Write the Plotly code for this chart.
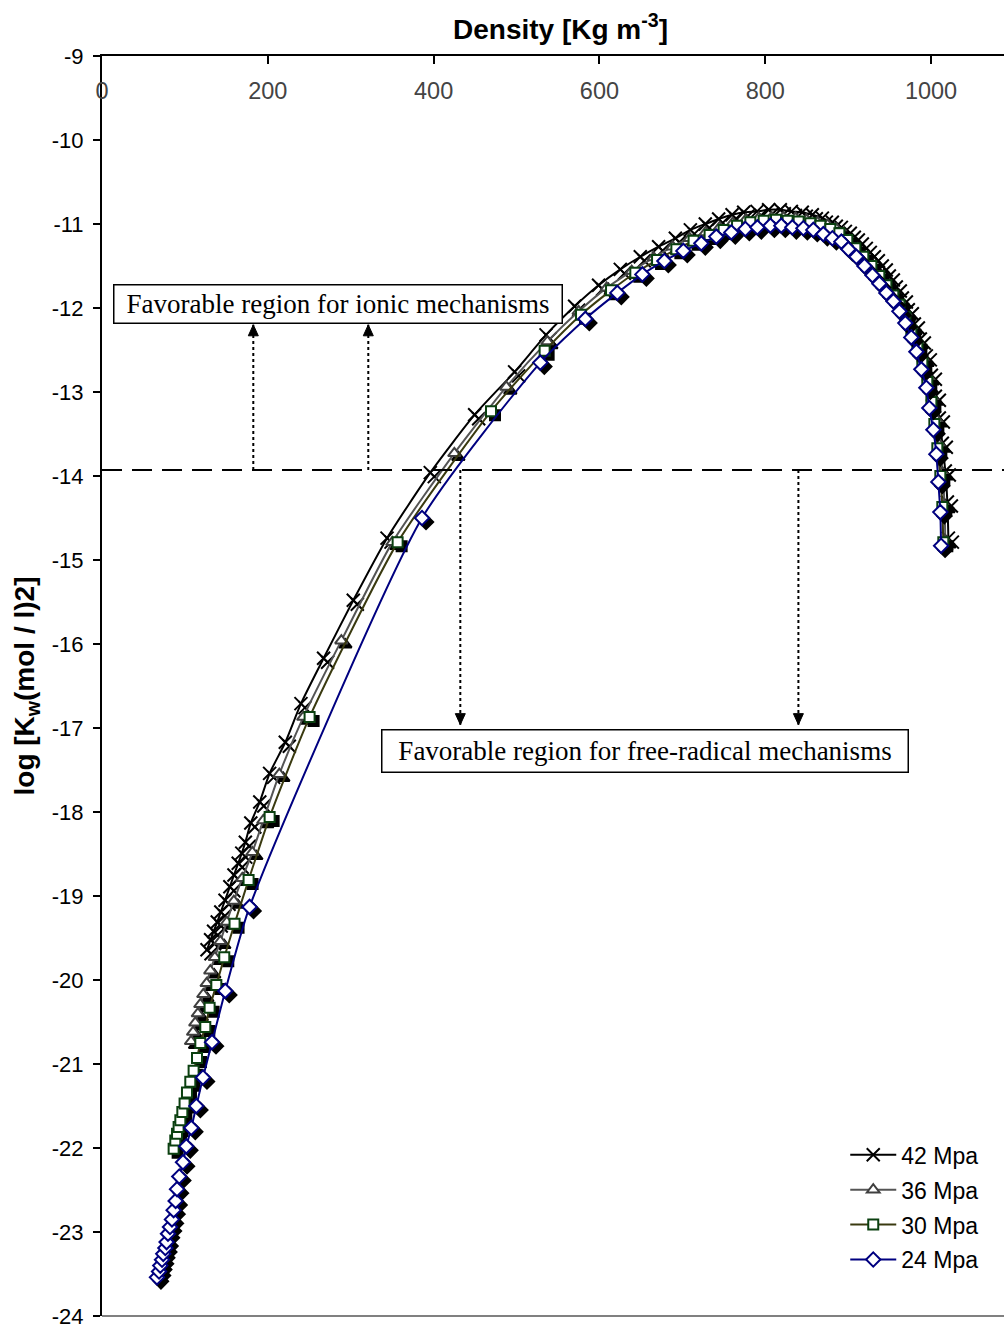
import plotly.graph_objects as go

# Ion product of water along four isobars: density [kg/m3] vs log Kw
rho_42 = [126.7, 131.0, 134.6, 139.0, 143.3, 148.4, 154.2, 159.2, 164.3, 168.6,
          172.9, 179.5, 190.3, 202.2, 221.1, 240.0, 267.3, 303.1, 343.8, 396.0,
          449.5, 497.7, 535.6, 570.1, 599.0, 625.2, 649.3, 671.4, 691.6, 709.7,
          727.7, 743.8, 760.0, 774.0, 790.1, 804.1, 818.2, 831.5, 844.7, 856.8,
          868.9, 880.9, 891.8, 902.6, 912.3, 921.9, 931.6, 941.2, 949.7, 958.1,
          965.4, 972.6, 979.9, 987.1, 994.3, 1000.4, 1005.2, 1010.0, 1013.6, 1017.2,
          1019.7, 1020.9]
logkw_42 = [-19.64, -19.52, -19.42, -19.31, -19.19, -19.05, -18.89, -18.75, -18.61, -18.49,
            -18.36, -18.13, -17.88, -17.54, -17.17, -16.71, -16.17, -15.48, -14.74, -13.96,
            -13.27, -12.76, -12.32, -11.98, -11.73, -11.54, -11.39, -11.27, -11.17, -11.07,
            -11.00, -10.94, -10.89, -10.86, -10.85, -10.83, -10.83, -10.85, -10.86, -10.89,
            -10.93, -10.98, -11.04, -11.11, -11.19, -11.29, -11.39, -11.50, -11.62, -11.75,
            -11.88, -12.02, -12.19, -12.37, -12.57, -12.80, -13.05, -13.31, -13.61, -13.94,
            -14.31, -14.74]

rho_36 = [107.4, 109.9, 112.5, 115.6, 118.6, 122.2, 126.2, 130.6, 136.1, 142.7,
          150.5, 159.0, 169.2, 181.3, 194.6, 213.9, 242.8, 288.7, 350.2, 425.0,
          487.7, 537.2, 574.9, 608.7, 638.9, 665.4, 688.3, 708.8, 728.1, 745.0,
          760.6, 776.3, 792.0, 807.6, 822.1, 836.6, 849.9, 863.1, 875.2, 886.1,
          896.9, 906.6, 916.2, 925.9, 935.6, 945.2, 953.7, 962.1, 969.4, 976.6,
          983.8, 991.0, 997.0, 1001.8, 1006.6, 1010.3, 1013.9, 1016.3, 1017.2]
logkw_36 = [-20.73, -20.62, -20.51, -20.40, -20.29, -20.17, -20.04, -19.89, -19.73, -19.54,
            -19.31, -19.06, -18.79, -18.48, -18.10, -17.55, -16.87, -15.96, -14.79, -13.73,
            -12.94, -12.40, -12.04, -11.76, -11.56, -11.40, -11.27, -11.17, -11.10, -11.04,
            -10.99, -10.95, -10.93, -10.92, -10.92, -10.93, -10.95, -10.98, -11.01, -11.06,
            -11.14, -11.24, -11.35, -11.45, -11.57, -11.68, -11.80, -11.92, -12.06, -12.23,
            -12.40, -12.61, -12.83, -13.07, -13.33, -13.63, -13.96, -14.35, -14.77]

rho_30 = [86.4, 88.4, 90.5, 92.4, 94.5, 96.9, 99.6, 102.5, 106.5, 110.5,
          114.6, 118.6, 124.6, 129.8, 137.9, 147.5, 159.9, 176.8, 202.2, 250.4,
          356.6, 469.2, 533.9, 577.8, 614.0, 643.3, 669.5, 692.8, 713.6, 732.9,
          749.8, 766.0, 782.0, 798.1, 813.0, 827.0, 840.3, 854.4, 866.5, 878.5,
          889.4, 899.0, 908.7, 918.3, 928.0, 937.6, 946.1, 954.5, 961.8, 969.0,
          976.2, 983.5, 989.5, 995.5, 1000.4, 1004.0, 1007.6, 1011.2, 1013.6, 1014.8]
logkw_30 = [-22.01, -21.91, -21.83, -21.75, -21.67, -21.57, -21.47, -21.34, -21.21, -21.08,
            -20.93, -20.75, -20.56, -20.33, -20.06, -19.73, -19.33, -18.81, -18.06, -16.87,
            -14.79, -13.23, -12.51, -12.08, -11.79, -11.58, -11.43, -11.30, -11.20, -11.13,
            -11.07, -11.02, -10.98, -10.96, -10.95, -10.96, -10.97, -10.99, -11.02, -11.06,
            -11.11, -11.19, -11.29, -11.39, -11.50, -11.62, -11.73, -11.85, -11.96, -12.11,
            -12.27, -12.45, -12.65, -12.88, -13.12, -13.38, -13.67, -14.00, -14.37, -14.79]

rho_24 = [66.3, 68.8, 70.3, 72.4, 73.9, 76.4, 77.9, 79.6, 82.0, 84.4,
          86.4, 88.8, 90.5, 93.2, 97.7, 101.7, 107.7, 113.8, 121.8, 132.7,
          148.7, 178.0, 386.0, 528.7, 583.0, 621.6, 651.8, 678.3, 701.2, 722.9,
          741.0, 759.1, 776.0, 790.5, 806.2, 819.4, 832.7, 846.0, 858.0, 870.1,
          881.0, 891.8, 900.3, 910.0, 919.6, 929.3, 937.7, 946.1, 954.6, 961.8,
          969.0, 976.2, 982.3, 988.3, 994.3, 997.9, 1002.8, 1006.4, 1008.8, 1011.2,
          1012.1]
logkw_24 = [-23.54, -23.47, -23.40, -23.33, -23.26, -23.19, -23.12, -23.02, -22.94, -22.85,
            -22.74, -22.63, -22.49, -22.34, -22.17, -21.98, -21.76, -21.50, -21.16, -20.74,
            -20.13, -19.13, -14.50, -12.65, -12.13, -11.82, -11.60, -11.44, -11.32, -11.23,
            -11.15, -11.10, -11.06, -11.04, -11.02, -11.02, -11.04, -11.05, -11.07, -11.12,
            -11.17, -11.21, -11.30, -11.39, -11.50, -11.61, -11.71, -11.82, -11.92, -12.04,
            -12.18, -12.35, -12.52, -12.73, -12.95, -13.19, -13.45, -13.74, -14.07, -14.43,
            -14.83]

series_names = ["42 Mpa", "36 Mpa", "30 Mpa", "24 Mpa"]
x_ticks = [0, 200, 400, 600, 800, 1000]
y_ticks = [-9, -10, -11, -12, -13, -14, -15, -16, -17, -18, -19, -20, -21, -22, -23, -24]
y_tick_text = ["-9", "-10", "-11", "-12", "-13", "-14", "-15", "-16", "-17", "-18",
               "-19", "-20", "-21", "-22", "-23", "-24"]

# boundary between the two reaction regimes (log Kw)
kw_boundary = -13.93

# ---------------------------------------------------------------- layout geometry
W, H = 1004, 1329
M_L, M_R, M_T, M_B = 102, 0, 56, 13
X_RANGE = [0, 1088]
Y_RANGE = [-24, -9]
plot_w = W - M_L - M_R
plot_h = H - M_T - M_B

# drop shadow under each marker, shifted a few pixels down-right
SHADOW_PX = 4
sdx = SHADOW_PX * (X_RANGE[1] - X_RANGE[0]) / plot_w
sdy = -SHADOW_PX * (Y_RANGE[1] - Y_RANGE[0]) / plot_h

FONT = "Arial, Liberation Sans, sans-serif"
SERIF = "Times New Roman, Liberation Serif, serif"

styles = [
    dict(line="#000000", marker=dict(symbol="x-thin", size=13, color="#000000",
                                     line=dict(color="#000000", width=2))),
    dict(line="#555555", marker=dict(symbol="triangle-up", size=11, color="white",
                                     line=dict(color="#404040", width=2))),
    dict(line="#3a3a10", marker=dict(symbol="square", size=10, color="white",
                                     line=dict(color="#0b4010", width=2))),
    dict(line="#000080", marker=dict(symbol="diamond", size=11, color="white",
                                     line=dict(color="#000080", width=2))),
]

data = [(rho_42, logkw_42), (rho_36, logkw_36), (rho_30, logkw_30), (rho_24, logkw_24)]

fig = go.Figure()
for name, (xs, ys), st in zip(series_names, data, styles):
    m = st["marker"]
    shadow_marker = dict(symbol=m["symbol"], size=m["size"], color="#000000",
                         line=dict(color="#000000", width=m["line"]["width"]))
    fig.add_trace(go.Scatter(
        x=[v + sdx for v in xs], y=[v + sdy for v in ys], mode="markers",
        marker=shadow_marker, showlegend=False, hoverinfo="skip"))
    fig.add_trace(go.Scatter(
        x=xs, y=ys, name=name, mode="lines+markers", legendgroup=name,
        line=dict(color=st["line"], width=2, shape="spline", smoothing=0.6),
        marker=m))

# regime boundary and dotted arrows pointing to each region
shapes = [
    dict(type="line", xref="paper", x0=0, x1=1, yref="y", y0=kw_boundary, y1=kw_boundary,
         line=dict(color="#000000", width=2, dash="20px,10px")),
    dict(type="line", xref="paper", x0=0, x1=1, yref="paper", y0=0, y1=0,
         line=dict(color="#808080", width=2)),
]
up_arrows = [(182.5, -12.20), (321.2, -12.20)]
down_arrows = [(432.2, -16.96), (840.0, -16.96)]
for x, ytip in up_arrows + down_arrows:
    shapes.append(dict(type="line", xref="x", yref="y", x0=x, x1=x, y0=kw_boundary, y1=ytip,
                       line=dict(color="#000000", width=2, dash="dot")))
    # arrowhead: small filled triangle, sized in pixels around the tip
    back = -11 if ytip > kw_boundary else 11
    shapes.append(dict(type="path", xref="x", yref="y",
                       xsizemode="pixel", ysizemode="pixel", xanchor=x, yanchor=ytip,
                       path=f"M0,0 L-5,{back} L5,{back} Z",
                       fillcolor="#000000", line=dict(color="#000000", width=1)))

annotations = [
    dict(x=284.4, y=-11.95, xref="x", yref="y", showarrow=False,
         text="Favorable region for ionic mechanisms",
         font=dict(family=SERIF, size=27, color="#000000"),
         bgcolor="white", bordercolor="#000000", borderwidth=1.5, borderpad=0,
         width=447, height=37, align="center", valign="middle"),
    dict(x=654.8, y=-17.27, xref="x", yref="y", showarrow=False,
         text="Favorable region for free-radical mechanisms",
         font=dict(family=SERIF, size=27, color="#000000"),
         bgcolor="white", bordercolor="#000000", borderwidth=1.5, borderpad=0,
         width=525, height=41, align="center", valign="middle"),
    # density axis title above the top axis
    dict(x=(560 - M_L) / plot_w, y=1 + (M_T - 27) / plot_h, xref="paper", yref="paper",
         xanchor="center", yanchor="middle", showarrow=False,
         text="<b>Density [Kg m<sup>-3</sup>]</b>",
         font=dict(family=FONT, size=28, color="#000000")),
]

fig.update_layout(
    width=W, height=H,
    margin=dict(l=M_L, r=M_R, t=M_T, b=M_B),
    paper_bgcolor="white", plot_bgcolor="white",
    font=dict(family=FONT, size=22, color="#000000"),
    shapes=shapes, annotations=annotations,
    showlegend=True,
    legend=dict(x=0.824, y=0.145, xanchor="left", yanchor="top",
                bgcolor="rgba(0,0,0,0)", font=dict(family=FONT, size=23),
                itemwidth=46, tracegroupgap=2),
    xaxis=dict(
        range=X_RANGE, side="top", tickvals=x_ticks,
        ticks="inside", ticklen=8, tickwidth=1.5, tickcolor="#000000",
        ticklabelposition="inside", ticklabeloverflow="allow", ticklabelstandoff=20,
        tickfont=dict(family=FONT, size=23.5),
        showline=True, linecolor="#000000", linewidth=2,
        showgrid=False, zeroline=False,
    ),
    yaxis=dict(
        range=Y_RANGE, tickvals=y_ticks, ticktext=y_tick_text,
        ticks="outside", ticklen=7, tickwidth=1.5, tickcolor="#000000",
        ticklabeloverflow="allow",
        tickfont=dict(family=FONT, size=22), ticklabelstandoff=5,
        showline=True, linecolor="#000000", linewidth=2,
        showgrid=False, zeroline=False,
        title=dict(text="<b>log [K<sub>w</sub>(mol / l)2]</b>",
                   font=dict(family=FONT, size=28), standoff=9),
    ),
)

fig.write_html("out.html")
